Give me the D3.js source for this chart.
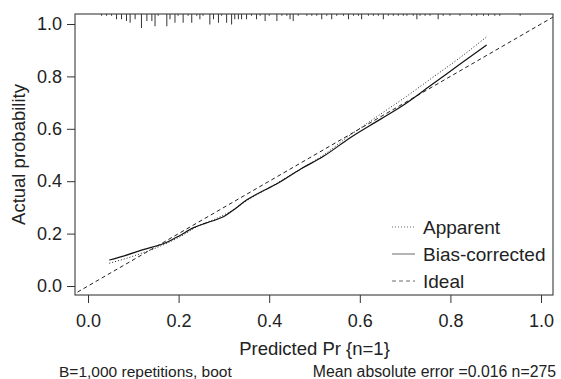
<!DOCTYPE html>
<html lang="en">
    <head>
        <meta charset="utf-8">
        <title>Calibration curve</title>
        <script type="text/javascript" src="https://cdn.jsdelivr.net/npm/d3@7"></script>
        <style type="text/css">
            body { margin: 0; background: #fff; }
            text { font-family: "Liberation Sans", Arial, sans-serif; fill: #222; }
        </style>
    </head>
    <body>
        <script type="text/javascript">

            //Width and height
            var w = 561;
            var h = 379;

            //Data - predicted prob vs actual prob
            var apparentX = [0.047, 0.08, 0.12, 0.17, 0.20, 0.247, 0.28, 0.32, 0.35, 0.40, 0.468, 0.52, 0.578, 0.645, 0.70, 0.76, 0.82, 0.88];
            var apparentY = [0.087, 0.103, 0.126, 0.160, 0.185, 0.232, 0.255, 0.290, 0.325, 0.375, 0.445, 0.500, 0.575, 0.655, 0.720, 0.795, 0.870, 0.951];

            var biasX = [0.047, 0.08, 0.12, 0.174, 0.20, 0.232, 0.26, 0.284, 0.30, 0.321, 0.35, 0.372, 0.42, 0.468, 0.519, 0.578, 0.645, 0.70, 0.76, 0.82, 0.88];
            var biasY = [0.099, 0.115, 0.138, 0.167, 0.190, 0.222, 0.240, 0.254, 0.265, 0.290, 0.328, 0.350, 0.393, 0.445, 0.494, 0.565, 0.636, 0.695, 0.770, 0.845, 0.920];

            //rug of predicted values at the top (position, frequency)
            var rugX = [0.030, 0.041, 0.052, 0.063, 0.074, 0.085, 0.093, 0.104, 0.118, 0.130, 0.141, 0.148, 0.155, 0.174, 0.181, 0.192, 0.199, 0.210, 0.221, 0.229, 0.240, 0.247, 0.254, 0.269, 0.277, 0.288, 0.295, 0.306, 0.317, 0.324, 0.332,
                        0.339, 0.350, 0.361, 0.372, 0.380, 0.391, 0.400, 0.417, 0.428, 0.439, 0.446, 0.453, 0.464, 0.483, 0.494, 0.505, 0.516, 0.527, 0.538, 0.549, 0.564, 0.575, 0.586, 0.597, 0.604, 0.619, 0.630, 0.641, 0.652, 0.663, 0.674, 0.685,
                        0.696, 0.704, 0.718, 0.726, 0.733, 0.744, 0.755, 0.773, 0.784, 0.799, 0.821, 0.847, 0.858, 0.873, 0.884, 0.898, 0.909, 0.954];
            var rugCount = [1, 1, 1, 3, 3, 4, 5, 3, 8, 4, 4, 7, 1, 7, 3, 5, 1, 5, 1, 5, 1, 3, 1, 6, 3, 5, 1, 5, 6, 3, 3,
                        3, 3, 1, 3, 1, 4, 1, 4, 1, 1, 3, 4, 1, 1, 1, 1, 3, 1, 3, 1, 1, 3, 1, 1, 3, 1, 1, 1, 3, 1, 1, 1,
                        1, 1, 1, 3, 1, 1, 1, 3, 1, 1, 1, 1, 1, 1, 1, 1, 1, 1];

            var tickVals = [0, 0.2, 0.4, 0.6, 0.8, 1.0];
            var legendLabels = ["Apparent", "Bias-corrected", "Ideal"];
            var legendDash = ["1,2", null, "4,3"];

            //box edges (don't call these top/left, window.top is taken)
            var boxL = 75, boxR = 553, boxT = 14, boxB = 295;

            var x = d3.scaleLinear().domain([0, 1]).range([88, 541]);
            var y = d3.scaleLinear().domain([0, 1]).range([286, 24]);
            var rugLen = d3.scaleLinear().domain([0, 8]).range([0, 14]);

            //Creates SVG element
            var svg = d3.select("body")
                        .append("svg")
                        .attr("width", w)
                        .attr("height", h);

            svg.append("defs").append("clipPath")
                .attr("id", "box")
                .append("rect")
                .attr("x", boxL).attr("y", boxT)
                .attr("width", boxR - boxL).attr("height", boxB - boxT);

            var plot = svg.append("g").attr("clip-path", "url(#box)");

            //ideal line, corner to corner
            plot.append("line")
                .attr("x1", x(-0.05)).attr("y1", y(-0.05))
                .attr("x2", x(1.05)).attr("y2", y(1.05))
                .attr("stroke", "#222")
                .attr("stroke-width", 1)
                .attr("stroke-dasharray", "4,3");

            var line = d3.line()
                .x(function(d) { return x(d[0]); })
                .y(function(d) { return y(d[1]); })
                .curve(d3.curveMonotoneX);

            plot.append("path")
                .datum(apparentX.map(function(v, i) { return [v, apparentY[i]]; }))
                .attr("d", line)
                .attr("fill", "none")
                .attr("stroke", "#222")
                .attr("stroke-width", 1)
                .attr("stroke-dasharray", "1,2");

            plot.append("path")
                .datum(biasX.map(function(v, i) { return [v, biasY[i]]; }))
                .attr("d", line)
                .attr("fill", "none")
                .attr("stroke", "#111")
                .attr("stroke-width", 1.2);

            //rug hanging from the top edge
            svg.selectAll("line.rug")
                .data(rugX)
                .enter()
                .append("line")
                .attr("class", "rug")
                .attr("x1", function(d) { return x(d); })
                .attr("x2", function(d) { return x(d); })
                .attr("y1", boxT)
                .attr("y2", function(d, i) { return boxT + rugLen(rugCount[i]); })
                .attr("stroke", "#333")
                .attr("stroke-width", 1);

            //box
            svg.append("rect")
                .attr("x", boxL).attr("y", boxT)
                .attr("width", boxR - boxL).attr("height", boxB - boxT)
                .attr("fill", "none")
                .attr("stroke", "#3a3a3a")
                .attr("stroke-width", 1.1);

            //axes
            var xAxis = d3.axisBottom(x).tickValues(tickVals).tickSize(8).tickPadding(11).tickFormat(d3.format(".1f"));
            var yAxis = d3.axisLeft(y).tickValues(tickVals).tickSize(8).tickPadding(5).tickFormat(d3.format(".1f"));

            var gx = svg.append("g").attr("transform", "translate(0," + boxB + ")").call(xAxis);
            var gy = svg.append("g").attr("transform", "translate(" + boxL + ",0)").call(yAxis);
            gx.select(".domain").remove();
            gy.select(".domain").remove();
            svg.selectAll(".tick line").attr("stroke", "#333");
            svg.selectAll(".tick text")
                .attr("font-family", "Liberation Sans, Arial, sans-serif")
                .attr("font-size", 18)
                .attr("fill", "#222");

            //axis titles
            svg.append("text")
                .text("Predicted Pr {n=1}")
                .attr("x", (x(0) + x(1)) / 2)
                .attr("y", 355)
                .attr("font-size", 18.5)
                .attr("text-anchor", "middle");

            svg.append("text")
                .text("Actual probability")
                .attr("transform", "translate(25," + ((boxT + boxB) / 2) + ") rotate(-90)")
                .attr("font-size", 18.5)
                .attr("text-anchor", "middle");

            //footer
            svg.append("text")
                .text("B=1,000 repetitions, boot")
                .attr("x", 59).attr("y", 377)
                .attr("font-size", 15.5);
            svg.append("text")
                .text("Mean absolute error =0.016 n=275")
                .attr("x", 556).attr("y", 377)
                .attr("font-size", 15.8)
                .attr("text-anchor", "end");

            //legend
            var legend = svg.selectAll("g.legend")
                .data(legendLabels)
                .enter()
                .append("g")
                .attr("class", "legend")
                .attr("transform", function(d, i) { return "translate(392," + (227 + i * 27) + ")"; });

            legend.append("line")
                .attr("x1", 0).attr("x2", 23)
                .attr("y1", 0).attr("y2", 0)
                .attr("stroke", "#444")
                .attr("stroke-width", 0.8)
                .attr("stroke-dasharray", function(d, i) { return legendDash[i]; });

            legend.append("text")
                .text(function(d) { return d; })
                .attr("x", 31)
                .attr("y", 6.5)
                .attr("font-size", 19);
        </script>
    </body>
</html>
